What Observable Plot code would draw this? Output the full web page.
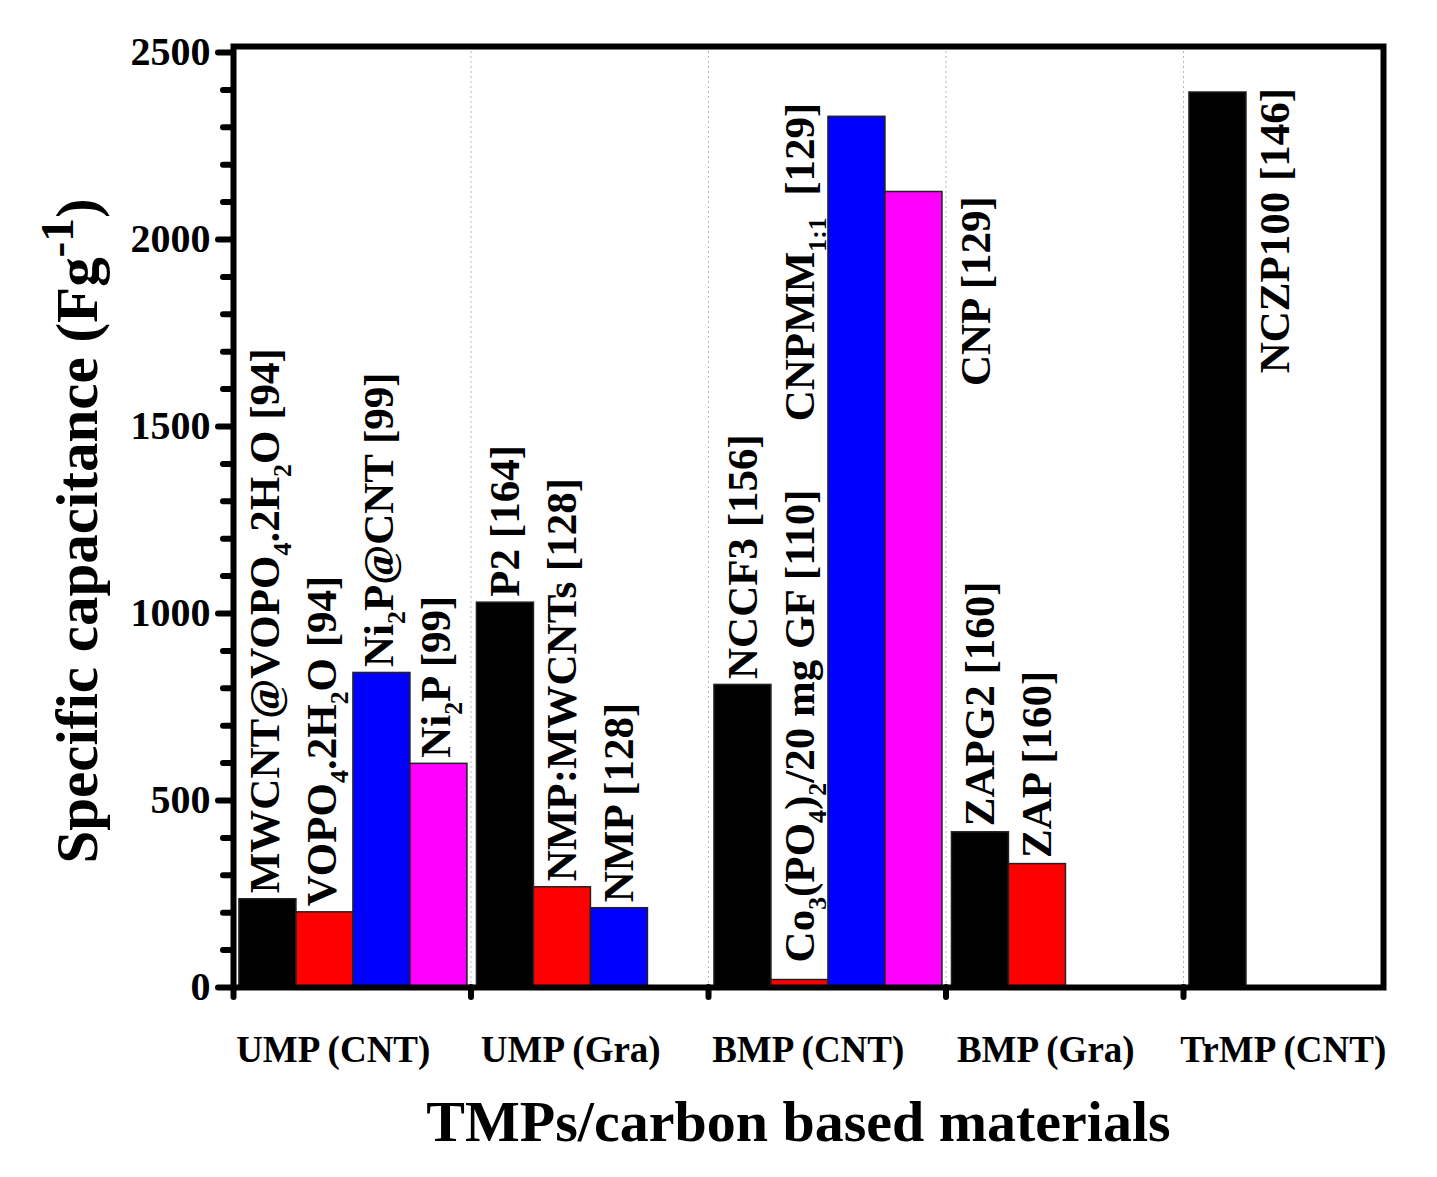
<!DOCTYPE html>
<html><head><meta charset="utf-8">
<script src="https://cdn.jsdelivr.net/npm/d3@7"></script>
<script src="https://cdn.jsdelivr.net/npm/@observablehq/plot@0.6"></script>
<style>body{margin:0;background:#fff} #chart{width:1437px;height:1177px}</style>
</head><body><div id="chart"></div>
<script>
// ---- data ----
const groups = ["UMP (CNT)", "UMP (Gra)", "BMP (CNT)", "BMP (Gra)", "TrMP (CNT)"];
const materials = [
  "MWCNT@VOPO_{4}.2H_{2}O [94]",
  "VOPO_{4}.2H_{2}O [94]",
  "Ni_{2}P@CNT [99]",
  "Ni_{2}P [99]",
  "P2 [164]",
  "NMP:MWCNTs [128]",
  "NMP [128]",
  "NCCF3 [156]",
  "Co_{3}(PO_{4})_{2}/20 mg GF [110]",
  "CNPMM_{1:1}\u00a0\u00a0[129]",
  "CNP [129]",
  "ZAPG2 [160]",
  "ZAP [160]",
  "NCZP100 [146]"
];
const groupIndex = [0, 0, 0, 0, 1, 1, 1, 2, 2, 2, 2, 3, 3, 4];
const slotIndex  = [0, 1, 2, 3, 0, 1, 2, 0, 1, 2, 3, 0, 1, 0];
const capacitance = [236, 201, 841, 598, 1029, 268, 212, 809, 20, 2328, 2127, 415, 330, 2393];
// where each annotation sits (slot within group, value where the text begins)
const labelSlot = [-0.05, 0.95, 1.95, 2.95, 0, 1, 2, 0, 1, 1, 4.1, 0, 1, 1];
const labelBase = [236, 201, 841, 598, 1029, 268, 212, 809, 51, 1498, 1592, 415, 330, 1626];
const slotColors = ["#000000", "#ff0000", "#0000ff", "#ff00ff"];
const yMajorTicks = [0, 500, 1000, 1500, 2000, 2500];
const yMinorTicks = d3.range(100, 2500, 100).filter(v => v % 500 !== 0);
const groupTicks = [0, 1, 2, 3, 4];

const BAR_W = 0.24, PAD = 0.025, LABEL_POS = 0.42;
const rows = materials.map((m, i) => ({
  material: m,
  value: capacitance[i],
  x1: groupIndex[i] + PAD + slotIndex[i] * BAR_W,
  x2: groupIndex[i] + PAD + (slotIndex[i] + 1) * BAR_W,
  lx: groupIndex[i] + PAD + (labelSlot[i] + 0.5) * BAR_W,
  ly: labelBase[i],
  color: slotColors[slotIndex[i]]
}));

const serif = "'Liberation Serif','Times New Roman',Times,serif";
const plot = Plot.plot({
  width: 1437, height: 1177,
  marginLeft: 233, marginRight: 54, marginTop: 46, marginBottom: 190,
  style: {fontFamily: serif, fontWeight: "bold", background: "white", color: "black"},
  x: {domain: [0, 4.842], axis: null},
  y: {domain: [0, 2516], axis: null},
  color: {type: "identity"},
  marks: [
    Plot.ruleX(groupTicks.slice(1), {stroke: "#b5b5b5", strokeDasharray: "2,3", strokeWidth: 1}),
    Plot.rectY(rows, {x1: "x1", x2: "x2", y1: 0, y2: "value", fill: "color", stroke: "#222", strokeWidth: 1.5}),
    Plot.text(rows, {x: "lx", y: "ly", text: "material", rotate: -90, textAnchor: "start", lineAnchor: "middle", dy: -6, fontSize: 43, fill: "black"}),
    Plot.frame({stroke: "black", strokeWidth: 6}),
    Plot.axisY({ticks: yMajorTicks, tickSize: 15, tickPadding: 8, strokeWidth: 6, strokeLinecap: "round", fontSize: 40, tickFormat: d => String(d), label: null}),
    Plot.axisY({ticks: yMinorTicks, tickSize: 10, strokeWidth: 6, strokeLinecap: "round", text: null, label: null}),
    Plot.axisX({ticks: groupTicks, tickSize: 10, strokeWidth: 6, strokeLinecap: "round", text: null, label: null}),
    Plot.axisX({ticks: groupTicks.map(g => g + LABEL_POS), tickSize: 0, tickPadding: 48, fontSize: 37, tickFormat: d => groups[Math.floor(d)], label: null}),
    Plot.text(["TMPs/carbon based materials"], {frameAnchor: "bottom", dy: 135, dx: -10, fontSize: 58, lineAnchor: "middle", textAnchor: "middle", fill: "black"}),
    Plot.text(["Specific capacitance (Fg^{-1})"], {frameAnchor: "left", rotate: -90, dx: -155, dy: 14, fontSize: 59, lineAnchor: "middle", textAnchor: "middle", fill: "black"})
  ]
});
document.getElementById("chart").appendChild(plot);

// rich text: _{..} subscript, ^{..} superscript
plot.querySelectorAll("text").forEach(t => {
  const s = t.textContent;
  if (!/[_^]\{/.test(s)) return;
  const fs = parseFloat(getComputedStyle(t).fontSize) || 40;
  while (t.firstChild) t.removeChild(t.firstChild);
  const re = /([_^])\{([^}]*)\}/g;
  let last = 0, m, cur = 0;
  const add = (str, shift, size) => {
    const ts = document.createElementNS("http://www.w3.org/2000/svg", "tspan");
    ts.setAttribute("dy", (shift - cur).toFixed(2));
    if (size) ts.setAttribute("font-size", size);
    ts.textContent = str;
    t.appendChild(ts);
    cur = shift;
  };
  while ((m = re.exec(s))) {
    if (m.index > last) add(s.slice(last, m.index), 0);
    if (m[1] === "_") add(m[2], fs * 0.28, fs * 0.6);
    else add(m[2], -fs * 0.42, fs * 0.8);
    last = re.lastIndex;
  }
  if (last < s.length) add(s.slice(last), 0);
});
</script>
</body></html>
